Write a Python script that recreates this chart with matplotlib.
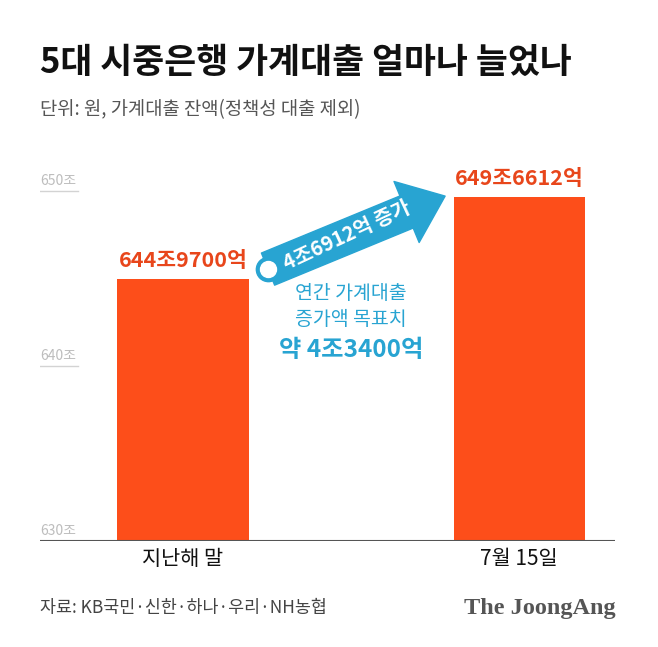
import matplotlib.pyplot as plt
import matplotlib.transforms as mtransforms

plt.rcParams['font.family'] = ['Noto Sans CJK KR', 'DejaVu Sans']

categories = ['지난해 말', '7월 15일']
values = [644.97, 649.6612]
value_labels = ['644조9700억', '649조6612억']
y_ticks = [630, 640, 650]
y_tick_labels = ['630조', '640조', '650조']
increase_label = '4조6912억 증가'
target_lines = ['연간 가계대출', '증가액 목표치']
target_value = '약 4조3400억'

bar_color = '#FD4E1A'
label_color = '#E8461B'
blue = '#28A4D2'

fig = plt.figure(figsize=(6.58, 6.47), dpi=100)
ax = fig.add_axes([0.0608, 0.1638, 0.8739, 0.595])

x = list(range(len(categories)))
ax.bar(x, values, width=0.39, color=bar_color, zorder=2)
ax.set_xlim(-0.4256, 1.2857)
ax.set_ylim(630, 652)

for xi, v, lab in zip(x, values, value_labels):
    ax.text(xi, v + 0.45, lab, ha='center', va='bottom', fontsize=15.5,
            fontweight='bold', color=label_color)

# y ticks drawn as small labels over short gridlines
blend = mtransforms.blended_transform_factory(ax.transAxes, ax.transData)
for yt, yl in zip(y_ticks, y_tick_labels):
    ax.text(0.0, yt + 0.2, yl, transform=blend, ha='left', va='bottom',
            fontsize=10, color='#BDBDBD')
    if yt != y_ticks[0]:
        ax.axhline(yt, xmin=0, xmax=0.066, color='#D3D3D3', lw=1, zorder=1)
ax.axhline(630, color='#555555', lw=1.5, zorder=3)

for s in ax.spines.values():
    s.set_visible(False)
ax.set_yticks([])
ax.set_xticks(x)
ax.set_xticklabels(categories, fontsize=15, color='#111111')
ax.tick_params(axis='x', length=0, pad=5)

# increase arrow between the bars
start = (x[0] + 0.253, values[0] + 0.57)
tip = (x[1] - 0.22, values[1] + 0.05)
ax.annotate('', xy=tip, xytext=start, zorder=4,
            arrowprops=dict(arrowstyle='simple,head_length=1.2,head_width=1.9,tail_width=1.0',
                            mutation_scale=25, color=blue, shrinkA=0, shrinkB=0))
ax.plot(*start, marker='o', markersize=17.5, markerfacecolor=blue,
        markeredgecolor=blue, zorder=5)
ax.plot(*start, marker='o', markersize=11.5, markerfacecolor='white',
        markeredgecolor='white', zorder=6)
mid_x = (start[0] + tip[0]) / 2 - 0.03
mid_y = (start[1] + tip[1]) / 2 - 0.12
ax.text(mid_x, mid_y, increase_label, rotation=25, rotation_mode='anchor',
        ha='center', va='center', fontsize=14.5, fontweight='bold',
        color='white', zorder=7)

ax.text(0.5, 643.4, '\n'.join(target_lines), ha='center', va='center',
        fontsize=14, color=blue, linespacing=1.3)
ax.text(0.5, 640.9, target_value, ha='center', va='center', fontsize=17.5,
        fontweight='bold', color=blue)

fig.text(0.0608, 0.903, '5대 시중은행 가계대출 얼마나 늘었나', fontsize=25,
         fontweight='bold', color='#111111', va='center')
fig.text(0.0608, 0.830, '단위: 원, 가계대출 잔액(정책성 대출 제외)', fontsize=13.5,
         color='#555555', va='center')
fig.text(0.0608, 0.060, '자료: KB국민·신한·하나·우리·NH농협', fontsize=12.5,
         color='#444444', va='center')
fig.text(0.935, 0.060, 'The JoongAng', fontsize=17.5, fontweight='bold',
         family='Liberation Serif', color='#555555', va='center', ha='right')

fig.savefig('out.png', dpi=100)
